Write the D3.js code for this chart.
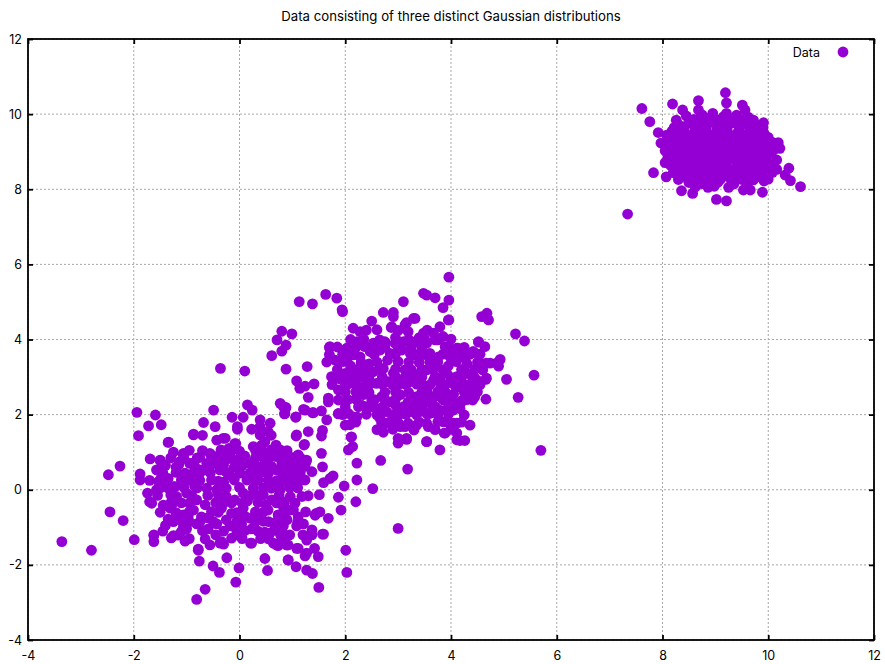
<!DOCTYPE html>
<html lang="en">
    <head>
        <meta charset="utf-8">
        <title>Three Gaussian distributions</title>
        <script type="text/javascript" src="https://d3js.org/d3.v7.min.js"></script>
        <style>
            body {
                margin: 0;
                background: white;
            }

            text {
                font-family: Inter, "Liberation Sans", sans-serif;
                font-size: 12.5px;
                fill: black;
            }

            .title {
                font-size: 13.2px;
            }

            .grid line {
                stroke: #a8a8a8;
                stroke-width: 1;
                stroke-dasharray: 2, 2;
            }

            .axis path {
                display: none;
            }

            .axis line {
                stroke: black;
                stroke-width: 1.8;
            }

            .frame {
                fill: none;
                stroke: black;
                stroke-width: 1.8;
            }
        </style>
    </head>
    <body>
        <div id="svgContainer"></div>
        <script type="text/javascript">
            //chart texts
            let titleText = "Data consisting of three distinct Gaussian distributions";
            let legendLabel = "Data";
            let xTicks = [-4, -2, 0, 2, 4, 6, 8, 10, 12];
            let yTicks = [-4, -2, 0, 2, 4, 6, 8, 10, 12];

            //lower left group
            let groupA = [
                [-1.94, 2.06], [-1.59, 1.99], [-1.72, 1.70], [-1.48, 1.73], [-1.91, 1.44], [-1.34, 1.27],
                [-0.49, 2.12], [-0.68, 1.79], [-0.46, 1.68], [-0.87, 1.48], [-0.70, 1.45], [-0.14, 1.93],
                [0.07, 1.93], [-0.04, 1.68], [-0.04, 1.61], [0.15, 2.26], [0.24, 2.12], [0.23, 1.61],
                [0.39, 1.86], [0.39, 1.68], [0.58, 1.77], [0.54, 1.55], [0.39, 1.46],
                [-0.43, 1.32], [-0.31, 1.37], [-0.09, 1.23],
                [0.77, 2.30], [0.88, 2.19], [0.85, 2.02], [1.06, 1.93],
                [-2.26, 0.63], [-2.48, 0.40], [-2.45, -0.59], [-2.20, -0.82], [-3.36, -1.38], [-2.80, -1.61],
                [-1.99, -1.33], [-1.62, -1.20], [-1.62, -1.38], [-1.29, -1.28], [-1.16, -1.21], [-1.03, -1.37],
                [-0.81, -2.92], [-0.65, -2.65], [-0.76, -1.90], [-0.78, -1.58], [-0.50, -2.03], [-0.38, -2.20],
                [-0.24, -1.81], [-0.01, -2.08], [-0.07, -2.46], [-0.37, -1.42], [-0.30, -1.45], [0.21, -1.42],
                [0.53, -2.15], [0.48, -1.83], [0.58, -1.15], [0.64, -1.42], [0.73, -1.49], [0.90, -1.47],
                [0.92, -1.87], [0.77, -1.18],
                [-1.69, 0.82], [-1.50, 0.78], [-1.53, 0.51], [-1.88, 0.42], [-1.88, 0.26], [-1.53, 0.22],
                [-1.74, -0.09], [-1.57, 0.00], [-1.66, -0.36],
                [-1.44, -0.43], [-1.28, -0.40], [-1.35, -0.78], [-1.19, -0.27], [-1.25, 0.08], [-1.12, -0.81],
                [-1.06, -0.98], [-0.97, -0.72],
                [-1.13, 0.75], [-1.06, 0.97], [-0.94, 0.70], [-1.00, 0.35], [-0.75, 0.53], [-0.62, 0.70],
                [-0.56, 0.97], [-0.43, 0.88],
                [2.01, -1.61], [2.03, -2.20], [1.50, -2.60], [1.87, -0.20], [1.92, -0.54], [1.98, 0.10],
                [1.68, -0.76], [1.57, -1.18], [1.51, -0.13], [1.43, -0.68], [1.52, -0.59],
                [1.71, 0.30], [1.77, 0.37], [1.59, 0.19], [1.57, 0.61], [1.55, 0.97], [1.23, 1.21],
                [1.07, 1.43], [1.30, 1.55], [1.57, 1.58], [1.55, 1.43],
                [2.11, 1.40], [2.06, 1.06], [2.14, 1.15], [2.09, 1.73],
                [0.77, -0.85], [0.89, -1.47], [1.11, -1.56], [0.92, -1.87], [1.07, -2.05], [1.24, -1.76],
                [1.27, -2.14], [1.38, -2.23], [1.49, -1.78], [1.42, -1.56], [1.59, -1.18], [1.21, -0.91],
                [1.37, -1.07], [1.20, -1.20], [1.37, -1.20], [1.45, -0.63],
                [0.77, 1.06], [0.95, 0.88], [1.11, 0.93], [1.27, 0.79], [0.77, 0.53], [0.89, 0.57],
                [0.99, 0.62], [1.08, 0.66], [1.24, 0.62], [1.37, 0.48], [1.18, 0.26], [1.02, 0.13],
                [0.83, 0.22], [0.96, -0.18], [1.18, -0.18], [0.83, -0.45], [1.02, -0.54], [0.77, -0.27],
                [0.83, 2.21], [0.86, 2.03], [1.07, 1.94], [1.24, 2.12], [1.40, 2.05], [1.55, 2.10],
                [1.68, 2.34], [1.87, 2.03], [2.06, 2.03], [2.22, 1.94], [2.31, 2.25], [2.44, 2.21],
                [2.22, 0.71], [2.22, 0.26], [2.20, -0.32], [2.52, 0.03], [2.67, 0.78], [3.18, 0.55], [3.00, -1.03],
                [-1.35, 1.26], [-0.87, 1.46], [-0.27, 1.37], [-0.07, 1.23], [-0.09, 1.10], [0.26, 1.15],
                [0.42, 1.19], [0.48, 1.28], [0.69, 1.19], [1.08, 1.46], [1.22, 1.19],
                [-1.06, 0.92], [-0.90, 0.70], [-0.53, 0.92], [-0.34, 0.88], [-0.18, 0.92], [-0.05, 0.79],
                [0.20, 0.70], [0.33, 0.61], [0.54, 0.83], [0.70, 0.88], [0.92, 0.88], [1.08, 0.88],
                [1.26, 0.75], [-1.50, 0.79],
                [-1.57, 0.53], [-1.50, 0.26], [-1.22, 0.08], [-1.03, 0.44], [-0.94, 0.26], [-0.75, 0.44],
                [-0.65, 0.53], [-0.53, 0.26], [-0.37, 0.53], [-0.18, 0.39], [0.01, 0.44], [0.14, 0.26],
                [0.39, 0.44], [0.54, 0.26], [0.70, 0.53], [0.89, 0.35], [1.08, 0.26], [1.24, 0.26],
                [-1.44, -0.41], [-1.19, -0.18], [-1.00, -0.09], [-0.81, -0.27], [-0.62, 0.04], [-0.43, 0.00],
                [-0.25, -0.18], [-0.09, -0.27], [0.07, -0.09], [0.26, 0.04], [0.45, -0.14], [0.61, -0.27],
                [0.77, 0.00], [-1.70, -0.32],
                [-1.31, -0.49], [-1.06, -0.67], [-0.87, -0.54], [-0.72, -0.72], [-0.53, -0.58], [-0.34, -0.49],
                [-0.15, -0.63], [0.07, -0.49], [0.20, -0.76], [0.39, -0.67], [0.54, -0.54], [0.73, -0.67],
                [0.96, -0.54], [1.11, -0.72],
                [-1.25, -1.22], [-1.00, -1.04], [-0.81, -0.91], [-0.59, -1.04], [-0.43, -0.91], [-0.18, -0.96],
                [0.04, -0.91], [0.23, -1.04], [0.48, -1.13], [0.67, -1.04], [0.83, -0.96], [1.08, -0.96],
                [-1.62, -1.22],
                [-0.78, -1.61], [-0.56, -1.47], [-0.34, -1.38], [0.23, -1.42], [0.70, -1.47], [0.92, -1.47],
                [1.08, -1.56], [1.27, -1.34], [1.27, -1.69],
                [-1.20, 0.60], [-0.80, 0.85], [-0.45, 0.70], [-0.10, 0.60], [0.10, 0.90], [0.45, 1.00],
                [0.80, 0.70], [-1.35, 0.30], [-0.85, 0.10], [-0.30, 0.20], [0.30, 0.25], [0.65, 0.10],
                [1.00, 0.45], [-1.10, -0.35], [-0.65, -0.40], [-0.30, -0.35], [0.15, -0.30], [0.50, -0.40],
                [0.85, -0.35], [-0.95, -0.85], [-0.60, -0.75], [-0.25, -0.80], [0.10, -0.70], [0.55, -0.85],
                [0.90, -0.80], [-0.45, -1.20], [-0.05, -1.20], [0.40, -1.30], [0.95, -1.20], [-1.40, -0.95],
                [-0.20, 1.10], [0.60, 1.45], [-1.25, 1.00]
            ];

            //dense middle of the lower left group
            let groupACore = [
                [-0.95, 1.05], [-0.70, 1.04], [-0.35, 1.06], [0.00, 1.03], [0.30, 1.05], [0.60, 1.06], [0.90, 1.04],
                [-1.30, 0.85], [-1.05, 0.84], [-0.75, 0.86], [-0.20, 0.83], [0.30, 0.85], [0.45, 0.86], [0.80, 0.84], [1.15, 0.85],
                [-1.40, 0.65], [-1.15, 0.66], [-0.85, 0.64], [-0.55, 0.65], [-0.30, 0.66], [0.05, 0.64],
                [0.45, 0.65], [0.60, 0.63], [0.90, 0.66], [1.15, 0.64],
                [-1.45, 0.45], [-1.20, 0.46], [-0.88, 0.44], [-0.55, 0.45], [-0.25, 0.47], [0.20, 0.45],
                [0.55, 0.44], [0.80, 0.46], [1.15, 0.45],
                [-1.70, 0.25], [-1.40, 0.24], [-1.10, 0.26], [-0.75, 0.25], [-0.40, 0.23], [-0.10, 0.26],
                [0.35, 0.25], [0.70, 0.24], [0.95, 0.26],
                [-1.50, 0.05], [-1.35, 0.04], [-1.05, 0.06], [-0.80, 0.05], [-0.25, 0.04], [0.00, 0.06],
                [0.45, 0.05], [0.60, 0.04], [0.95, 0.06], [1.10, 0.05],
                [-1.55, -0.15], [-1.30, -0.14], [-0.90, -0.16], [-0.60, -0.15], [-0.40, -0.14], [0.20, -0.16],
                [0.35, -0.15], [0.75, -0.14], [1.30, -0.16],
                [-1.30, -0.35], [-0.95, -0.36], [-0.45, -0.34], [-0.15, -0.35], [0.05, -0.36], [0.35, -0.34],
                [0.70, -0.35], [1.05, -0.36],
                [-1.50, -0.60], [-1.20, -0.61], [-0.95, -0.59], [-0.40, -0.60], [-0.05, -0.61], [0.30, -0.59],
                [0.45, -0.60], [0.85, -0.61], [1.25, -0.59],
                [-1.25, -0.85], [-0.75, -0.86], [-0.50, -0.84], [-0.05, -0.85], [0.30, -0.86], [0.45, -0.84],
                [0.70, -0.85], [1.10, -0.86],
                [-1.45, -1.10], [-1.10, -1.11], [-0.70, -1.09], [-0.30, -1.10], [-0.05, -1.11], [0.10, -1.09],
                [0.35, -1.10], [0.80, -1.11],
                [-0.95, -1.30], [-0.65, -1.31], [-0.15, -1.29], [0.05, -1.30], [0.55, -1.31], [0.80, -1.29]
            ];

            //middle group
            let groupB = [
                [1.13, 5.01], [0.80, 4.22], [0.99, 4.15], [0.71, 3.99], [0.88, 3.85], [0.80, 3.69],
                [0.88, 3.21], [0.61, 3.57], [1.08, 2.90], [1.14, 2.70], [-0.36, 3.23], [0.10, 3.16],
                [3.96, 5.66], [3.48, 5.23], [3.54, 5.18], [3.70, 5.11], [3.96, 5.05], [3.85, 4.85],
                [3.96, 4.52], [3.10, 5.01],
                [1.38, 4.95], [1.63, 5.20], [1.84, 5.10], [1.94, 4.79],
                [2.72, 4.72], [2.91, 4.72], [2.91, 4.61], [3.29, 4.56], [3.16, 4.45], [2.87, 4.32], [2.50, 4.49],
                [4.58, 4.61], [4.68, 4.70], [4.71, 4.52], [5.22, 4.15], [5.39, 3.96], [4.52, 3.93],
                [5.57, 3.05], [5.27, 2.46], [5.05, 2.94], [4.93, 3.47], [4.90, 3.29], [4.66, 2.94], [4.66, 2.41],
                [4.44, 3.65], [4.13, 3.77], [4.02, 3.48], [4.20, 3.54], [4.74, 3.37], [4.61, 3.35],
                [4.44, 3.00], [4.39, 2.52], [4.45, 2.48], [4.20, 2.37], [4.36, 1.72],
                [3.96, 2.46], [4.08, 2.21], [3.85, 1.81], [4.11, 1.77],
                [1.28, 3.28], [1.24, 2.76], [1.41, 2.82], [1.30, 2.46], [1.70, 3.79], [2.00, 3.72],
                [1.68, 2.44], [1.87, 2.02], [1.21, 2.14], [1.38, 2.05],
                [5.70, 1.05],
                [3.54, 1.28], [3.79, 1.06], [3.00, 1.24], [3.16, 1.34], [2.72, 1.53], [3.87, 1.51],
                [4.17, 1.31], [4.26, 1.31],
                [2.66, 2.12], [2.66, 1.90], [2.78, 1.77], [2.97, 1.90], [3.13, 1.68], [3.10, 2.03],
                [3.29, 2.21], [3.41, 2.12], [3.54, 2.03], [3.57, 1.68], [3.70, 2.21], [4.04, 2.12],
                [4.17, 2.16], [4.04, 1.77], [4.20, 2.34], [4.41, 2.39],
                [1.95, 4.74], [2.15, 4.30], [2.28, 4.21], [2.88, 4.34], [3.13, 4.39], [3.32, 4.56],
                [3.19, 4.21], [3.48, 4.17], [3.67, 4.17], [3.79, 4.34], [3.95, 4.52], [3.85, 4.08],
                [1.71, 3.81], [2.03, 3.77], [2.22, 3.94], [2.37, 3.81], [2.53, 3.90], [2.75, 3.94],
                [2.94, 3.90], [3.10, 3.94], [3.32, 3.94], [3.54, 3.90], [3.70, 3.99], [3.89, 3.81],
                [4.11, 3.77], [4.30, 3.63], [4.52, 3.94], [4.42, 3.68], [4.64, 3.81], [4.67, 3.37], [4.86, 3.37],
                [1.81, 3.45], [2.06, 3.54], [2.28, 3.54], [2.47, 3.68], [2.66, 3.72], [2.85, 3.63],
                [3.07, 3.72], [3.23, 3.63], [3.41, 3.63], [3.60, 3.63], [3.76, 3.54], [3.98, 3.54], [4.17, 3.54],
                [1.74, 3.01], [1.96, 2.92], [2.15, 3.19], [2.34, 3.01], [2.53, 3.14], [2.72, 3.23],
                [2.91, 3.10], [3.13, 3.19], [3.35, 3.05], [3.54, 3.19], [3.73, 3.28], [3.92, 3.10],
                [4.11, 3.01], [4.30, 3.10], [4.49, 2.92], [4.67, 2.97],
                [1.87, 2.66], [2.34, 2.74], [2.59, 2.83], [2.81, 2.88], [3.00, 2.79], [3.23, 2.88],
                [3.45, 2.83], [3.67, 2.92], [3.89, 2.79], [4.17, 2.74], [4.39, 2.74],
                [1.87, 2.39], [2.34, 2.53], [2.37, 2.21], [2.69, 2.48], [2.85, 2.34], [3.04, 2.53],
                [3.19, 2.34], [3.35, 2.48], [3.54, 2.34], [3.70, 2.48], [3.95, 2.44], [4.11, 2.30], [4.36, 2.57],
                [2.78, 2.08], [3.04, 2.12], [3.23, 2.08], [3.60, 2.03], [3.79, 2.12], [4.01, 2.12],
                [1.65, 1.86], [2.15, 1.94], [2.00, 1.72], [2.69, 1.77], [3.04, 1.68], [3.19, 1.77],
                [3.35, 1.72], [3.54, 1.77], [3.89, 1.51], [4.11, 1.51], [2.12, 1.41], [3.00, 1.37],
                [3.16, 1.37], [3.54, 1.28], [4.11, 1.33],
                [2.10, 3.30], [2.45, 3.35], [2.80, 3.45], [3.20, 3.40], [3.60, 3.40], [3.95, 3.30],
                [4.30, 3.35], [2.00, 2.85], [2.45, 2.95], [3.10, 2.95], [3.55, 2.60], [3.80, 2.95],
                [4.05, 2.55], [2.55, 2.40], [2.95, 2.25], [3.35, 2.25], [2.50, 3.75], [2.95, 4.05],
                [3.40, 4.05], [2.25, 2.65], [1.90, 2.95], [2.00, 3.10]
            ];

            //dense middle of the middle group
            let groupBCore = [
                [2.40, 4.25], [2.60, 4.26], [3.00, 4.24], [3.55, 4.25],
                [2.10, 4.00], [2.35, 4.01], [2.65, 3.99], [3.20, 4.00], [3.50, 4.02], [3.75, 3.99], [4.00, 4.01],
                [1.85, 3.80], [2.20, 3.79], [2.75, 3.81], [3.00, 3.80], [3.25, 3.79], [3.45, 3.81], [3.95, 3.80], [4.25, 3.79],
                [1.70, 3.60], [1.95, 3.61], [2.15, 3.59], [2.55, 3.60], [2.95, 3.61], [3.30, 3.59],
                [3.50, 3.60], [3.85, 3.61], [4.05, 3.59], [4.35, 3.60], [4.55, 3.61],
                [1.65, 3.40], [1.95, 3.41], [2.30, 3.39], [2.60, 3.40], [3.00, 3.41], [3.40, 3.39],
                [3.75, 3.40], [4.10, 3.41], [4.50, 3.39],
                [1.85, 3.20], [2.25, 3.21], [2.40, 3.19], [2.65, 3.20], [2.95, 3.21], [3.25, 3.19],
                [3.45, 3.20], [3.65, 3.21], [3.85, 3.19], [4.20, 3.20], [4.45, 3.21], [4.60, 3.19],
                [1.80, 3.00], [2.10, 3.01], [2.25, 2.99], [2.70, 3.00], [2.95, 3.01], [3.25, 2.99],
                [3.45, 3.00], [3.70, 3.01], [4.00, 2.99], [4.20, 3.00], [4.40, 3.01],
                [1.75, 2.80], [2.05, 2.81], [2.20, 2.79], [2.45, 2.80], [2.70, 2.81], [2.90, 2.79],
                [3.15, 2.80], [3.35, 2.81], [3.60, 2.79], [3.80, 2.80], [4.05, 2.81], [4.30, 2.79], [4.55, 2.80],
                [2.00, 2.60], [2.20, 2.61], [2.45, 2.59], [2.75, 2.60], [2.95, 2.61], [3.20, 2.59],
                [3.45, 2.60], [3.75, 2.61], [3.90, 2.59], [4.25, 2.60], [4.50, 2.61],
                [2.05, 2.40], [2.20, 2.41], [2.50, 2.39], [2.75, 2.40], [2.95, 2.41], [3.30, 2.39],
                [3.45, 2.40], [3.60, 2.41], [3.85, 2.39], [4.30, 2.40],
                [2.00, 2.20], [2.25, 2.21], [2.55, 2.19], [2.70, 2.20], [3.10, 2.21], [3.45, 2.19], [3.65, 2.20], [3.95, 2.21],
                [1.95, 2.00], [2.40, 2.01], [2.60, 1.99], [2.90, 2.00], [3.15, 2.01], [3.35, 1.99],
                [3.75, 2.00], [3.95, 2.01], [4.25, 1.99],
                [2.20, 1.80], [2.85, 1.81], [3.00, 1.79], [3.40, 1.80], [3.75, 1.81], [3.95, 1.79], [4.20, 1.80],
                [2.60, 1.60], [2.90, 1.61], [3.30, 1.59], [3.70, 1.60], [4.00, 1.61]
            ];

            //upper right group
            let groupC = [
                [7.34, 7.34], [7.61, 10.15], [7.76, 9.80], [7.92, 9.51], [7.97, 9.23], [7.83, 8.44],
                [8.05, 8.71], [8.07, 8.33], [8.19, 10.27], [8.38, 10.11], [8.26, 9.84], [8.68, 10.36],
                [8.68, 10.11], [9.19, 10.57], [9.21, 10.30], [9.21, 10.02], [9.51, 10.24], [9.56, 10.11],
                [9.72, 9.84], [9.91, 9.77], [10.19, 9.24], [10.22, 9.09], [10.16, 8.78], [10.39, 8.56],
                [10.32, 8.38], [10.42, 8.23], [10.61, 8.07], [10.16, 8.53], [10.00, 8.27], [9.89, 7.92],
                [9.21, 7.69], [9.02, 7.73], [8.57, 7.89], [8.36, 7.96], [8.86, 8.05], [9.53, 7.98], [9.66, 7.98],
                [8.45, 9.95], [8.75, 9.98], [8.95, 10.02], [9.15, 9.93], [9.40, 9.97], [9.62, 9.92],
                [8.30, 9.72], [8.52, 9.78], [8.72, 9.74], [8.93, 9.80], [9.12, 9.73], [9.33, 9.77], [9.55, 9.74], [9.80, 9.68],
                [8.18, 9.55], [8.40, 9.58], [8.60, 9.52], [8.82, 9.57], [9.02, 9.55], [9.22, 9.60], [9.43, 9.53], [9.65, 9.57], [9.88, 9.52],
                [8.12, 9.33], [8.33, 9.38], [8.55, 9.32], [8.76, 9.36], [8.97, 9.33], [9.18, 9.37], [9.39, 9.31], [9.60, 9.36], [9.82, 9.33], [10.00, 9.38],
                [8.10, 9.12], [8.30, 9.17], [8.50, 9.13], [8.71, 9.16], [8.92, 9.12], [9.12, 9.18], [9.33, 9.14], [9.54, 9.17], [9.75, 9.12], [9.96, 9.16],
                [8.17, 8.93], [8.38, 8.97], [8.59, 8.92], [8.80, 8.96], [9.00, 8.93], [9.21, 8.98], [9.42, 8.94], [9.63, 8.97], [9.84, 8.92], [10.04, 8.96],
                [8.20, 8.73], [8.41, 8.77], [8.62, 8.72], [8.83, 8.76], [9.04, 8.74], [9.25, 8.78], [9.46, 8.72], [9.67, 8.76], [9.88, 8.73],
                [8.27, 8.55], [8.48, 8.52], [8.69, 8.57], [8.90, 8.53], [9.11, 8.56], [9.32, 8.52], [9.53, 8.57], [9.74, 8.53], [9.95, 8.55],
                [8.35, 8.35], [8.57, 8.32], [8.78, 8.37], [8.99, 8.33], [9.20, 8.36], [9.41, 8.32], [9.62, 8.37], [9.83, 8.34],
                [8.50, 8.18], [8.75, 8.15], [9.05, 8.19], [9.35, 8.14], [9.60, 8.18]
            ];

            //dense middle of the upper right group
            let groupCCore = [
                [8.60, 9.86], [8.85, 9.88], [9.05, 9.84], [9.27, 9.87], [9.50, 9.85], [9.70, 9.82],
                [8.22, 9.64], [8.42, 9.67], [8.62, 9.63], [8.83, 9.66], [9.03, 9.64], [9.23, 9.68], [9.45, 9.65], [9.68, 9.63], [9.90, 9.62],
                [8.08, 9.44], [8.28, 9.47], [8.48, 9.43], [8.70, 9.46], [8.90, 9.44], [9.10, 9.47], [9.32, 9.43], [9.52, 9.46], [9.72, 9.44], [9.93, 9.46],
                [8.02, 9.24], [8.20, 9.27], [8.42, 9.23], [8.63, 9.26], [8.84, 9.24], [9.05, 9.27], [9.25, 9.23], [9.45, 9.26], [9.66, 9.24], [9.87, 9.27], [10.08, 9.25],
                [8.05, 9.03], [8.25, 9.06], [8.45, 9.04], [8.66, 9.07], [8.86, 9.03], [9.06, 9.06], [9.27, 9.04], [9.48, 9.07], [9.69, 9.03], [9.90, 9.06], [10.10, 9.04],
                [8.10, 8.84], [8.30, 8.87], [8.50, 8.83], [8.71, 8.86], [8.92, 8.84], [9.13, 8.87], [9.34, 8.83], [9.55, 8.86], [9.76, 8.84], [9.97, 8.86],
                [8.15, 8.64], [8.36, 8.67], [8.57, 8.63], [8.78, 8.66], [8.99, 8.64], [9.20, 8.67], [9.41, 8.63], [9.62, 8.66], [9.83, 8.64], [10.04, 8.66],
                [8.20, 8.44], [8.41, 8.46], [8.62, 8.43], [8.83, 8.47], [9.04, 8.44], [9.25, 8.46], [9.46, 8.43], [9.67, 8.47], [9.88, 8.44], [10.08, 8.45],
                [8.30, 8.26], [8.48, 8.27], [8.68, 8.24], [8.90, 8.26], [9.10, 8.27], [9.30, 8.24], [9.50, 8.26], [9.72, 8.25], [9.92, 8.22],
                [8.62, 8.06], [8.98, 8.08], [9.25, 8.05]
            ];

            //set svg size and plot area
            let w = 885;
            let h = 664;
            let margin = {top: 39, right: 11, bottom: 24, left: 28};
            let dotColor = "#9400d3";
            let dotRadius = 5.4;

            let points = groupA.concat(groupACore, groupB, groupBCore, groupC, groupCCore);

            let xScale = d3.scaleLinear()
                            .domain([-4, 12])
                            .range([margin.left, w - margin.right]);

            let yScale = d3.scaleLinear()
                            .domain([-4, 12])
                            .range([h - margin.bottom, margin.top]);

            let svg = d3.select("#svgContainer")
                        .append("svg")
                        .attr("width", w)
                        .attr("height", h);

            //dashed grid
            let grid = svg.append("g").attr("class", "grid");

            grid.selectAll(".vgrid")
                .data(xTicks)
                .enter()
                .append("line")
                .attr("x1", d => xScale(d))
                .attr("x2", d => xScale(d))
                .attr("y1", yScale(-4))
                .attr("y2", yScale(12));

            grid.selectAll(".hgrid")
                .data(yTicks)
                .enter()
                .append("line")
                .attr("class", "hgrid")
                .attr("x1", xScale(-4))
                .attr("x2", xScale(12))
                .attr("y1", d => yScale(d))
                .attr("y2", d => yScale(d));

            //axes with inward ticks on all four sides
            let fmt = d => String(d);

            svg.append("g")
                .attr("class", "axis")
                .attr("transform", `translate(0, ${h - margin.bottom})`)
                .call(d3.axisBottom(xScale).tickValues(xTicks).tickSize(-5).tickPadding(11).tickFormat(fmt));

            svg.append("g")
                .attr("class", "axis")
                .attr("transform", `translate(${margin.left}, 0)`)
                .call(d3.axisLeft(yScale).tickValues(yTicks).tickSize(-5).tickPadding(6).tickFormat(fmt));

            svg.append("g")
                .attr("class", "axis")
                .attr("transform", `translate(0, ${margin.top})`)
                .call(d3.axisTop(xScale).tickValues(xTicks).tickSize(-5).tickFormat(""));

            svg.append("g")
                .attr("class", "axis")
                .attr("transform", `translate(${w - margin.right}, 0)`)
                .call(d3.axisRight(yScale).tickValues(yTicks).tickSize(-5).tickFormat(""));

            svg.selectAll(".axis").attr("font-family", null).attr("font-size", null);

            //the dots
            svg.append("g")
                .selectAll("circle")
                .data(points)
                .enter()
                .append("circle")
                .attr("cx", d => xScale(d[0]))
                .attr("cy", d => yScale(d[1]))
                .attr("r", dotRadius)
                .attr("fill", dotColor);

            //frame around the plot
            svg.append("rect")
                .attr("class", "frame")
                .attr("x", xScale(-4))
                .attr("y", yScale(12))
                .attr("width", xScale(12) - xScale(-4))
                .attr("height", yScale(-4) - yScale(12));

            //title
            svg.append("text")
                .attr("class", "title")
                .attr("x", (xScale(-4) + xScale(12)) / 2)
                .attr("y", 21)
                .attr("text-anchor", "middle")
                .text(titleText);

            //legend
            svg.append("text")
                .attr("x", 820)
                .attr("y", 57)
                .attr("text-anchor", "end")
                .text(legendLabel);

            svg.append("circle")
                .attr("cx", 843)
                .attr("cy", 52)
                .attr("r", dotRadius)
                .attr("fill", dotColor);
        </script>
    </body>
</html>
